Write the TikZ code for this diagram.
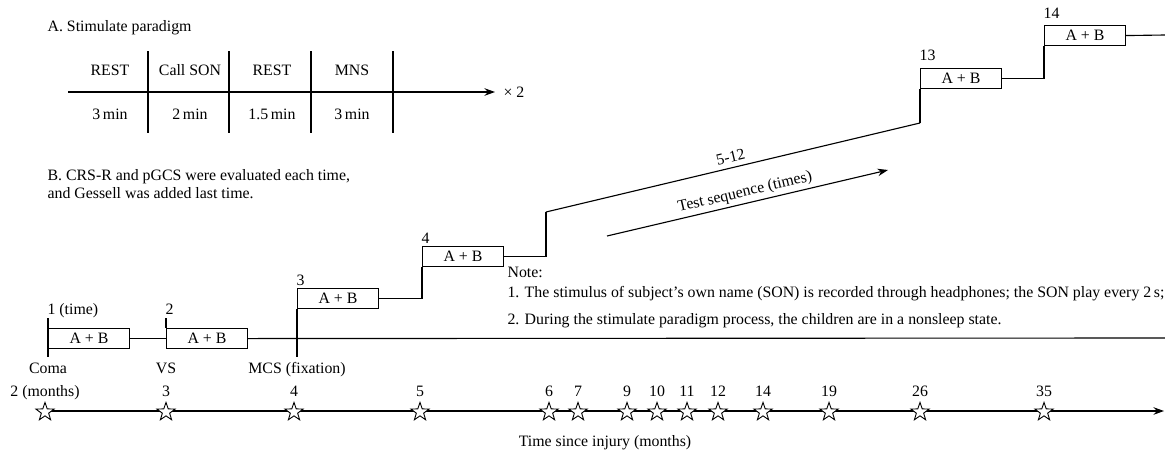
\documentclass[tikz,border=0pt]{standalone}
\usepackage{fontspec}
\setmainfont{Liberation Serif}
\usepackage{tikz}
\usetikzlibrary{positioning,shapes.geometric,arrows.meta}

\begin{document}
\begin{tikzpicture}[
        x=0.0235cm, y=-0.0235cm,
        font=\fontsize{10.6}{12.5}\selectfont,
        line width=0.75pt,
        % --- STYLE CHUNG ---
        plain/.style={inner sep=0pt},
        % Hop "A + B"
        testbox/.style={
            rectangle,
            draw,
            anchor=north west,
            minimum width=1.9cm,
            minimum height=0.47cm,
            inner sep=0pt
        },
        % So thu tu lan do
        seqno/.style={plain, anchor=base west},
        % Chu giua (trang thai, thang)
        midtext/.style={plain, anchor=base},
        % Ngoi sao tren truc thoi gian
        monthstar/.style={
            star, star points=5, star point ratio=2.5,
            draw, fill=white, line width=0.6pt,
            minimum size=0.45cm, inner sep=0pt
        },
        tip/.style={-{Stealth[length=7pt,width=5pt]}}
    ]
    \useasboundingbox (0,0) rectangle (1165,451);

    % --- PHAN A: KICH THICH ---
    \node[seqno] (titleA) at (47,32) {A. Stimulate paradigm};
    \foreach \x in {148,229,311,393}
        \draw (\x,51) -- (\x,133);
    \coordinate (pa_start) at (68,92);
    \coordinate (pa_end) at (495,92);
    \draw[tip] (pa_start) -- (pa_end);
    \node[plain, anchor=west] (rep) at (503,92) {× 2};
    \foreach \cx/\hd/\dur [count=\i] in {110/REST/3\,min, 190/Call SON/2\,min,
                                         272/REST/1.5\,min, 352/MNS/3\,min} {
        \node[midtext] (hd\i) at (\cx,75) {\hd};
        \node[midtext] (dur\i) at (\cx,119) {\dur};
    }

    % --- PHAN B ---
    \node[seqno] (titleB) at (47,180) {B. CRS-R and pGCS were evaluated each time,};
    \node[seqno] (titleB2) at (47,198) {and Gessell was added last time.};

    % --- CAC LAN DO ---
    \node[testbox] (t1) at (48,328) {A + B};
    \node[testbox] (t2) at (166,328) {A + B};
    \node[testbox] (t3) at (297,288) {A + B};
    \node[testbox] (t4) at (422,246) {A + B};
    \node[testbox] (t13) at (920,68) {A + B};
    \node[testbox] (t14) at (1044,25) {A + B};

    \node[seqno] (n1) at (47,314) {1 (time)};
    \node[seqno] (n2) at (165,314) {2};
    \node[seqno] (n3) at (296,285) {3};
    \node[seqno] (n4) at (421,243) {4};
    \node[seqno] (n13) at (919,60) {13};
    \node[seqno] (n14) at (1043,18) {14};

    % duong noi giua cac hop
    \coordinate (tick1_top) at (48,318);
    \coordinate (tick1_bot) at (48,357);
    \coordinate (tick2_top) at (166,318);
    \coordinate (tick3_bot) at (297,357);
    \coordinate (base_end) at (1165,338);
    \coordinate (up1) at (546,212);
    \coordinate (up2) at (920,123);
    \coordinate (top_end) at (1165,35);

    \draw (tick1_top) -- (tick1_bot);
    \draw (tick2_top) -- (t2.north west);
    \draw (t3.south west) -- (tick3_bot);
    \draw (t1.east) -- (t2.west);
    \draw (t2.east) -- (base_end);
    \draw (t3.east) -| (t4.south west);
    \draw (t4.east) -| (up1);
    \draw (up1) -- node[above, sloped, inner sep=3pt] (seq) {5-12} (up2);
    \draw (up2) -- (t13.south west);
    \draw (t13.east) -| (t14.south west);
    \draw (t14.east) -- (top_end);

    % mui ten thu tu
    \coordinate (ts_a) at (607,236);
    \coordinate (ts_b) at (888,170);
    \draw[tip] (ts_a) -- node[above, sloped, inner sep=2pt] (tslbl) {Test sequence (times)} (ts_b);

    % trang thai
    \node[midtext] (coma) at (48,373) {Coma};
    \node[midtext] (vs) at (166,373) {VS};
    \node[midtext] (mcs) at (297,373) {MCS (fixation)};

    % ghi chu
    \node[seqno] (note) at (507,277) {Note:};
    \node[seqno] (note1) at (507,297) {1. The stimulus of subject’s own name (SON) is recorded through headphones; the SON play every 2\,s;};
    \node[seqno] (note2) at (507,324) {2. During the stimulate paradigm process, the children are in a nonsleep state.};

    % --- TRUC THOI GIAN ---
    \coordinate (ax_start) at (45,411);
    \coordinate (ax_end) at (1164,411);
    \draw[tip] (ax_start) -- (ax_end);
    \foreach \mx/\mo in {45/2,166/3,294/4,420/5,549/6,578/7,627/9,657/10,
                         687/11,718/12,763/14,829/19,920/26,1044/35} {
        \node[monthstar] (s\mo) at (\mx,412) {};
    }
    \foreach \mx/\mo in {166/3,294/4,420/5,549/6,578/7,627/9,657/10,
                         687/11,718/12,763/14,829/19,920/26,1044/35} {
        \node[midtext] (m\mo) at (\mx,396) {\mo};
    }
    \node[midtext] (m2) at (45,396) {2 (months)};
    \node[midtext] (axlbl) at (605,446) {Time since injury (months)};

\end{tikzpicture}
\end{document}
